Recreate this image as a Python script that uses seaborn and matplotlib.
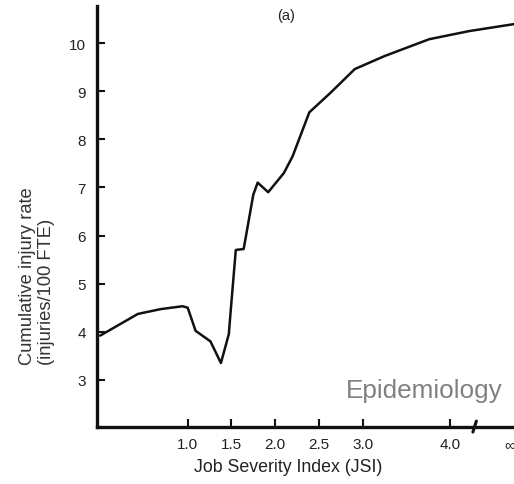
import matplotlib
matplotlib.use("Agg")
import matplotlib.pyplot as plt
import matplotlib.transforms as mtransforms
import seaborn as sns
import pandas as pd

# Cumulative injury rate against Job Severity Index
jsi = [0.0, 0.43, 0.69, 0.94, 1.0, 1.09, 1.26, 1.38, 1.47, 1.49, 1.55, 1.64,
       1.75, 1.80, 1.92, 2.10, 2.20, 2.39, 2.64, 2.91, 3.25, 3.76, 4.22, 4.75]
rate = [3.92, 4.37, 4.47, 4.53, 4.5, 4.02, 3.8, 3.35, 3.95, 4.4, 5.7, 5.72,
        6.85, 7.1, 6.9, 7.3, 7.65, 8.56, 8.98, 9.46, 9.73, 10.08, 10.25, 10.4]

x_ticks = [1.0, 1.5, 2.0, 2.5, 3.0, 4.0, 4.68]
x_tick_labels = ["1.0", "1.5", "2.0", "2.5", "3.0", "4.0", "\u221e"]
y_ticks = [3, 4, 5, 6, 7, 8, 9, 10]

sns.set_style("ticks")
plt.rcParams["font.family"] = ["Liberation Sans", "DejaVu Sans"]

df = pd.DataFrame({"JSI": jsi, "rate": rate})

fig = plt.figure(figsize=(5.14, 4.85), dpi=100)
ax = fig.add_axes([0.189, 0.1175, 0.811, 0.868])

sns.lineplot(data=df, x="JSI", y="rate", color="#111111", linewidth=1.8, ax=ax)

ax.set_xlim(-0.035, 4.73)
ax.set_ylim(2.02, 10.77)

ax.set_xticks(x_ticks)
ax.set_xticklabels(x_tick_labels)
ax.set_yticks(y_ticks)
ax.set_yticklabels([str(v) for v in y_ticks])

ax.tick_params(axis="both", direction="in", length=6, width=1.5,
               colors="#111111", labelsize=11, labelcolor="#222222")
ax.tick_params(axis="y", pad=8)
ax.tick_params(axis="x", pad=7)
# no tick mark for the infinity label
ax.xaxis.get_major_ticks()[-1].tick1line.set_visible(False)

sns.despine(ax=ax)
for side in ("left", "bottom"):
    ax.spines[side].set_linewidth(2.4)
    ax.spines[side].set_color("#111111")

# axis break before infinity
trans = mtransforms.blended_transform_factory(ax.transData, ax.transAxes)
ax.plot([4.26, 4.30], [-0.012, 0.014], transform=trans, color="#111111",
        lw=2.2, clip_on=False, solid_capstyle="round")

ax.set_xlabel("")
ax.set_ylabel("")
fig.text(0.56, 0.037, "Job Severity Index (JSI)", ha="center", va="center",
         fontsize=12.8, color="#222222")
fig.text(0.072, 0.43, "Cumulative injury rate\n(injuries/100 FTE)", rotation=90,
         ha="center", va="center", multialignment="left", fontsize=13.2,
         color="#333333", linespacing=1.2)

ax.text(2.13, 10.58, "(a)", ha="center", va="center", fontsize=10.5,
        color="#222222")

ax.text(4.6, 2.79, "Epidemiology", ha="right", va="center", fontsize=18.8,
        color="#808080")

fig.savefig("out.png", dpi=100, facecolor="white")
